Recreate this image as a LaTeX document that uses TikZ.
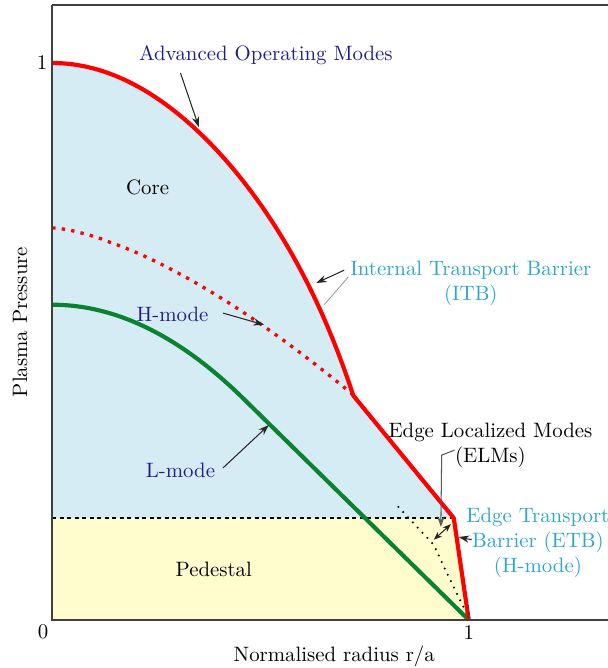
\documentclass[tikz,border=0pt]{standalone}
\usetikzlibrary{arrows.meta}

\definecolor{corefill}{RGB}{214,236,245}
\definecolor{pedfill}{RGB}{255,253,206}
\definecolor{navytext}{RGB}{30,30,140}
\definecolor{barrier}{RGB}{45,165,205}
\definecolor{lgreen}{RGB}{10,130,50}

\begin{document}
\begin{tikzpicture}[
    x=7.03cm, y=9.40cm,
    profile/.style={line width=2pt, line join=round},
    axis/.style={black!75, line width=0.9pt},
    pointer/.style={-{Stealth[length=5pt, width=3.5pt]}, line width=0.5pt, black!85},
    modetext/.style={text=navytext},
    barriertext/.style={text=barrier, align=center}
  ]
  \useasboundingbox (-0.1253,-0.0862) rectangle (1.3325,1.1131);

  % regions under the profile
  \fill[corefill] (0,0) -- plot[domain=0:0.723, samples=60] (\x,{1-\x*\x-\x^8})
    -- (0.964,0.183) -- (1,0) -- cycle;
  \fill[pedfill] (0,0) -- (0,0.183) -- (0.964,0.183) -- (1,0) -- cycle;

  % pedestal top and profile after an ELM
  \draw[line width=1pt, dash pattern=on 2pt off 1.6pt] (0,0.183) -- (0.964,0.183);
  \draw[line width=1.1pt, dash pattern=on 0pt off 3.4pt, line cap=round]
    (0.831,0.203) -- (0.916,0.135) .. controls (0.95,0.08) .. (1,0.004);

  % profiles
  \draw[profile, lgreen] plot[domain=0:0.46, samples=40] (\x,{0.566-0.8*\x*\x}) -- (1,0);
  \draw[profile, red, line width=1.6pt, dash pattern=on 1.6pt off 3pt]
    plot[domain=0:0.723, samples=50] (\x,{0.704-0.488*\x^1.5});
  \draw[profile, red] plot[domain=0:0.723, samples=60] (\x,{1-\x*\x-\x^8})
    -- (0.964,0.183) -- (1,0);

  % axes
  \draw[axis] (0,1.104) -- (0,0) -- (1.34,0);
  \draw[axis] (0,1.104) -- (1.34,1.104);
  \draw[axis, line width=0.6pt] (1,0) -- (1,0.027);
  \node (zero) at (-0.022,-0.022) {0};
  \node (yone) at (-0.024,1.0) {1};
  \node (xone) at (1.0,-0.023) {1};
  \node (xlabel) at (0.677,-0.066) {Normalised radius r/a};
  \node[rotate=90] (ylabel) at (-0.077,0.535) {Plasma Pressure};

  % labels
  \node[modetext] (advanced) at (0.513,1.014) {Advanced Operating Modes};
  \node (core) at (0.229,0.776) {Core};
  \node[modetext] (hmode) at (0.289,0.549) {H-mode};
  \node[modetext] (lmode) at (0.308,0.269) {L-mode};
  \node (pedestal) at (0.388,0.090) {Pedestal};
  \node[barriertext] (itb) at (1.005,0.604) {Internal Transport Barrier\\(ITB)};
  \node[align=center] (elms) at (1.052,0.314) {Edge Localized Modes\\(ELMs)};
  \node[barriertext] (etb) at (1.166,0.138) {Edge Transport\\Barrier (ETB)\\(H-mode)};

  % arrow ends
  \coordinate (advanced tail) at (0.308,0.982);
  \coordinate (advanced tip) at (0.352,0.885);
  \coordinate (itb tail) at (0.701,0.628);
  \coordinate (itb tip) at (0.634,0.605);
  \coordinate (itb line a) at (0.711,0.616);
  \coordinate (itb line b) at (0.653,0.566);
  \coordinate (hmode tail) at (0.410,0.551);
  \coordinate (hmode tip) at (0.508,0.530);
  \coordinate (lmode tail) at (0.410,0.273);
  \coordinate (lmode tip) at (0.520,0.350);
  \coordinate (elms a) at (0.966,0.305);
  \coordinate (elms b) at (0.935,0.296);
  \coordinate (elms tip) at (0.933,0.167);
  \coordinate (crash a) at (0.916,0.144);
  \coordinate (crash b) at (0.957,0.172);
  \coordinate (etb tail) at (1.007,0.144);
  \coordinate (etb tip) at (0.976,0.149);

  % arrows
  \draw[pointer] (advanced tail) -- (advanced tip);
  \draw[pointer] (itb tail) -- (itb tip);
  \draw[black!40, line width=0.4pt] (itb line a) -- (itb line b);
  \draw[pointer] (hmode tail) -- (hmode tip);
  \draw[pointer] (lmode tail) -- (lmode tip);
  \draw[pointer, black!65] (elms a) -- (elms b) -- (elms tip);
  \draw[pointer, {Stealth[length=4pt, width=3pt]}-{Stealth[length=4pt, width=3pt]}] (crash a) -- (crash b);
  \draw[pointer] (etb tail) -- (etb tip);
\end{tikzpicture}
\end{document}
